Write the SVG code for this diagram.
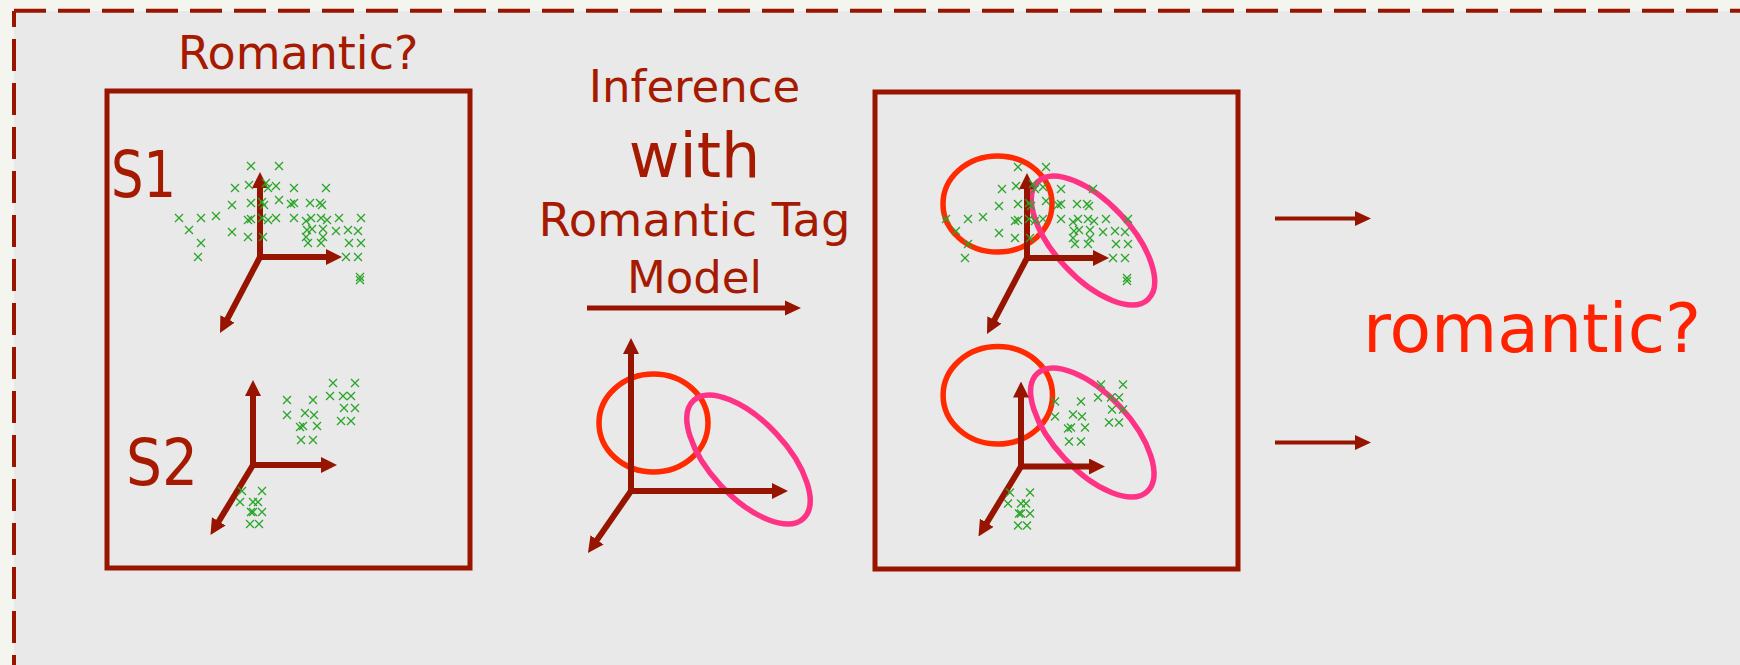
<svg xmlns="http://www.w3.org/2000/svg" width="1740" height="665" viewBox="0 0 1740 665">
<defs>
<style>
.t{font-family:"DejaVu Sans","Verdana",sans-serif;fill:#a51a00}
.box{fill:none;stroke:#991500;stroke-width:5}
.ax{stroke:#961400;stroke-width:6;fill:none;marker-end:url(#ah)}
.fl{stroke:#961400;fill:none;marker-end:url(#fh)}
.red{fill:none;stroke:#ff2a00;stroke-width:5.5}
.pink{fill:none;stroke:#ff3385;stroke-width:5.5}
.pts use{stroke:#2aa52a;stroke-width:1.3}
.brd{stroke:#991500;stroke-width:4;fill:none;stroke-dasharray:32 12}
</style>
<marker id="ah" markerUnits="userSpaceOnUse" markerWidth="16" markerHeight="16" refX="4" refY="8" orient="auto" viewBox="0 0 16 16"><path d="M0,0 L16,8 L0,16 z" fill="#961400"/></marker>
<marker id="fh" markerUnits="userSpaceOnUse" markerWidth="16" markerHeight="16" refX="4" refY="8" orient="auto" viewBox="0 0 16 16"><path d="M0,0.5 L16,8 L0,15.5 z" fill="#961400"/></marker>
<path id="x" d="M-4,-4 L4,4 M-4,4 L4,-4"/>
<g id="s1pts" class="pts">
<use href="#x" x="251" y="166"/><use href="#x" x="279" y="166"/>
<use href="#x" x="235" y="188"/><use href="#x" x="249" y="185"/><use href="#x" x="266" y="183"/><use href="#x" x="268" y="188"/><use href="#x" x="276" y="186"/><use href="#x" x="294" y="188"/><use href="#x" x="326" y="188"/>
<use href="#x" x="232" y="205"/><use href="#x" x="251" y="203"/><use href="#x" x="262" y="202"/><use href="#x" x="264" y="205"/><use href="#x" x="279" y="200"/><use href="#x" x="291" y="204"/><use href="#x" x="294" y="203"/><use href="#x" x="310" y="203"/><use href="#x" x="320" y="203"/><use href="#x" x="322" y="205"/>
<use href="#x" x="179" y="218"/><use href="#x" x="201" y="218"/><use href="#x" x="216" y="216"/><use href="#x" x="248" y="220"/><use href="#x" x="251" y="219"/><use href="#x" x="262" y="218"/><use href="#x" x="268" y="220"/><use href="#x" x="276" y="218"/><use href="#x" x="294" y="218"/><use href="#x" x="306" y="221"/><use href="#x" x="311" y="218"/><use href="#x" x="321" y="218"/><use href="#x" x="327" y="220"/><use href="#x" x="339" y="218"/><use href="#x" x="361" y="218"/>
<use href="#x" x="189" y="230"/><use href="#x" x="232" y="232"/><use href="#x" x="307" y="230"/><use href="#x" x="312" y="229"/><use href="#x" x="323" y="229"/><use href="#x" x="336" y="231"/><use href="#x" x="348" y="230"/><use href="#x" x="358" y="231"/>
<use href="#x" x="201" y="243"/><use href="#x" x="248" y="237"/><use href="#x" x="263" y="237"/><use href="#x" x="306" y="237"/><use href="#x" x="323" y="237"/><use href="#x" x="308" y="243"/><use href="#x" x="321" y="243"/><use href="#x" x="349" y="243"/><use href="#x" x="361" y="243"/>
<use href="#x" x="198" y="257"/><use href="#x" x="346" y="257"/><use href="#x" x="358" y="257"/>
<use href="#x" x="360" y="277"/><use href="#x" x="360" y="280"/>
</g>
<g id="s2pts" class="pts">
<use href="#x" x="333" y="383"/><use href="#x" x="355" y="383"/>
<use href="#x" x="287" y="400"/><use href="#x" x="313" y="400"/><use href="#x" x="330" y="396"/><use href="#x" x="343" y="396"/><use href="#x" x="351" y="396"/>
<use href="#x" x="287" y="415"/><use href="#x" x="305" y="413"/><use href="#x" x="314" y="415"/><use href="#x" x="344" y="408"/><use href="#x" x="355" y="408"/>
<use href="#x" x="300" y="427"/><use href="#x" x="303" y="426"/><use href="#x" x="317" y="426"/><use href="#x" x="341" y="421"/><use href="#x" x="351" y="421"/>
<use href="#x" x="301" y="440"/><use href="#x" x="313" y="440"/>
<use href="#x" x="242" y="491"/><use href="#x" x="262" y="491"/><use href="#x" x="240" y="502"/><use href="#x" x="253" y="502"/><use href="#x" x="258" y="502"/><use href="#x" x="251" y="512"/><use href="#x" x="253" y="512"/><use href="#x" x="262" y="512"/><use href="#x" x="250" y="524"/><use href="#x" x="259" y="524"/>
</g>
</defs>

<rect x="0" y="0" width="1740" height="665" fill="#f5f5ef"/>
<rect x="14" y="11" width="1740" height="670" fill="#e9e9e9"/>
<g id="frame">
<line class="brd" x1="14" y1="10.7" x2="1740" y2="10.7"/>
<line class="brd" x1="14" y1="11" x2="14" y2="665" stroke-dashoffset="16"/>
</g>

<g id="input">
<text class="t" x="298" y="69" font-size="46" text-anchor="middle">Romantic?</text>
<rect class="box" x="107" y="91" width="363" height="477"/>
<g id="s1">
<text class="t" x="111" y="197" font-size="64" textLength="65" lengthAdjust="spacingAndGlyphs">S1</text>
<line class="ax" x1="260" y1="257" x2="260" y2="184"/>
<line class="ax" x1="257" y1="257" x2="330" y2="257"/>
<line class="ax" x1="260" y1="257" x2="225.6" y2="322.4"/>
<use href="#s1pts"/>
</g>
<g id="s2">
<text class="t" x="126" y="485" font-size="64" textLength="72" lengthAdjust="spacingAndGlyphs">S2</text>
<line class="ax" x1="253" y1="465" x2="253" y2="392"/>
<line class="ax" x1="250" y1="465" x2="325" y2="465"/>
<line class="ax" x1="253" y1="465" x2="216.7" y2="524.7"/>
<use href="#s2pts"/>
</g>
</g>

<g id="model">
<text class="t" x="694.5" y="102" font-size="45" text-anchor="middle">Inference</text>
<text class="t" x="694.5" y="177" font-size="62" text-anchor="middle">with</text>
<text class="t" x="694.5" y="236" font-size="46.5" text-anchor="middle">Romantic Tag</text>
<text class="t" x="694.5" y="293" font-size="45" text-anchor="middle">Model</text>
<ellipse class="red" cx="653.5" cy="423" rx="54.5" ry="49"/>
<ellipse class="pink" cx="0" cy="0" rx="80.6" ry="38" transform="translate(748.5 459.5) rotate(47)"/>
<line class="ax" x1="631" y1="491" x2="631" y2="350"/>
<line class="ax" x1="628" y1="491" x2="776" y2="491"/>
<line class="ax" x1="631" y1="491" x2="594.8" y2="543.1"/>
</g>

<g id="output">
<rect class="box" x="875" y="92" width="363" height="477"/>
<g id="o1">
<ellipse class="red" cx="997.5" cy="204" rx="54.5" ry="48"/>
<ellipse class="pink" cx="0" cy="0" rx="80.6" ry="38" transform="translate(1093 240.5) rotate(47)"/>
<g transform="translate(767 1)">
<line class="ax" x1="260" y1="257" x2="260" y2="184"/>
<line class="ax" x1="257" y1="257" x2="330" y2="257"/>
<line class="ax" x1="260" y1="257" x2="225.6" y2="322.4"/>
<use href="#s1pts"/>
</g>
</g>
<g id="o2">
<ellipse class="red" cx="997.8" cy="395.3" rx="54.7" ry="48.7"/>
<ellipse class="pink" cx="0" cy="0" rx="80.6" ry="38" transform="translate(1092.3 432.5) rotate(47)"/>
<g transform="translate(768 1.5)">
<line class="ax" x1="253" y1="465" x2="253" y2="392"/>
<line class="ax" x1="250" y1="465" x2="325" y2="465"/>
<line class="ax" x1="253" y1="465" x2="216.7" y2="524.7"/>
<use href="#s2pts"/>
</g>
</g>
</g>

<g id="result">
<text x="1363" y="352" font-size="68" font-family="DejaVu Sans, Verdana, sans-serif" fill="#ff2200">romantic?</text>
</g>

<g id="connectors">
<line class="fl" x1="587" y1="308" x2="789" y2="308" stroke-width="5"/>
<line class="fl" x1="1275" y1="218.5" x2="1359" y2="218.5" stroke-width="4"/>
<line class="fl" x1="1275" y1="442.5" x2="1359" y2="442.5" stroke-width="4"/>
</g>
</svg>
